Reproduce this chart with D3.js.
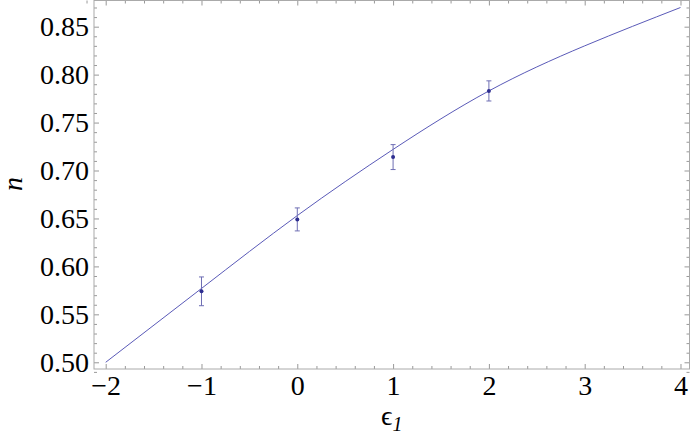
<!DOCTYPE html>
<html>
<head>
<meta charset="utf-8">
<script src="https://cdn.jsdelivr.net/npm/d3@7"></script>
<style>
  body { margin: 0; background: #fff; }
  svg { display: block; }
  .axis line { stroke: #999; }
  .axis path { display: none; }
</style>
</head>
<body>
<div id="chart"></div>
<script>
const width = 693,
  height = 441,
  margin = { top: 0.5, right: 3.5, bottom: 72, left: 94 };

const serif = "Liberation Serif";

// measured points with error bars
const epsPoints = [-1, 0, 1, 2];
const nPoints = [0.574, 0.649, 0.714, 0.783];
const nErrors = [0.015, 0.012, 0.013, 0.0105];

// fitted curve
const fitEps = [-2, -1, 0, 1, 2, 3, 4];
const fitN = [0.5, 0.577, 0.653, 0.722, 0.783, 0.830, 0.87];

// tick values
const xMajor = [-2, -1, 0, 1, 2, 3, 4];
const yMajor = [0.5, 0.55, 0.6, 0.65, 0.7, 0.75, 0.8, 0.85];

const xMinor = d3.range(-2.2, 4.1, 0.2).map(d => +d.toFixed(1)).filter(d => !xMajor.includes(d));
const yMinor = d3.range(0.49, 0.88, 0.01).map(d => +d.toFixed(2)).filter(d => !yMajor.includes(d));

const xScale = d3.scaleLinear()
  .domain([-2.122, 4.094])
  .range([margin.left, width - margin.right]);

const yScale = d3.scaleLinear()
  .domain([0.493, 0.8773])
  .range([height - margin.bottom, margin.top]);

const svg = d3.select("#chart")
  .append("svg")
  .attr("width", width)
  .attr("height", height);

const x0 = margin.left, x1 = width - margin.right;
const y0 = height - margin.bottom, y1 = margin.top;

// axes: labelled left/bottom, bare ticks top/right, all pointing inward
function addAxis(axis, tx, ty) {
  const g = svg.append("g").attr("class", "axis")
    .attr("transform", `translate(${tx},${ty})`)
    .call(axis);
  g.attr("font-family", serif).attr("font-size", 28);
  g.selectAll("text").attr("font-family", serif).attr("font-size", 28).attr("fill", "#000");
  return g;
}

addAxis(d3.axisBottom(xScale).tickValues(xMajor).tickSize(-5).tickPadding(6)
  .tickFormat(d => d < 0 ? "\u2212" + Math.abs(d) : d), 0, y0);
addAxis(d3.axisBottom(xScale).tickValues(xMinor).tickSize(-3).tickFormat(""), 0, y0);
addAxis(d3.axisTop(xScale).tickValues(xMajor).tickSize(-5).tickFormat(""), 0, y1);
addAxis(d3.axisTop(xScale).tickValues(xMinor).tickSize(-3).tickFormat(""), 0, y1);

addAxis(d3.axisLeft(yScale).tickValues(yMajor).tickSize(-5).tickPadding(5)
  .tickFormat(d3.format(".2f")), x0, 0);
addAxis(d3.axisLeft(yScale).tickValues(yMinor).tickSize(-3).tickFormat(""), x0, 0);
addAxis(d3.axisRight(yScale).tickValues(yMajor).tickSize(-5).tickFormat(""), x1, 0);
addAxis(d3.axisRight(yScale).tickValues(yMinor).tickSize(-3).tickFormat(""), x1, 0);

// frame
svg.append("rect")
  .attr("x", x0)
  .attr("y", y1)
  .attr("width", x1 - x0)
  .attr("height", y0 - y1)
  .attr("fill", "none")
  .attr("stroke", "#aaa")
  .attr("stroke-width", 1);

// fit curve
const fitData = fitEps.map((e, i) => ({ e, n: fitN[i] }));
svg.append("path")
  .datum(fitData)
  .attr("fill", "none")
  .attr("stroke", "#5a5ab8")
  .attr("stroke-width", 1)
  .attr("d", d3.line().x(d => xScale(d.e)).y(d => yScale(d.n)).curve(d3.curveNatural));

// error bars + points
const pts = epsPoints.map((e, i) => ({ e, n: nPoints[i], err: nErrors[i] }));
const bars = svg.selectAll(".err")
  .data(pts)
  .join("g")
  .attr("class", "err")
  .attr("stroke", "#6e6eb4")
  .attr("stroke-width", 1);

bars.append("line")
  .attr("x1", d => xScale(d.e)).attr("x2", d => xScale(d.e))
  .attr("y1", d => yScale(d.n - d.err)).attr("y2", d => yScale(d.n + d.err));
bars.append("line")
  .attr("x1", d => xScale(d.e) - 2.5).attr("x2", d => xScale(d.e) + 2.5)
  .attr("y1", d => yScale(d.n + d.err)).attr("y2", d => yScale(d.n + d.err));
bars.append("line")
  .attr("x1", d => xScale(d.e) - 2.5).attr("x2", d => xScale(d.e) + 2.5)
  .attr("y1", d => yScale(d.n - d.err)).attr("y2", d => yScale(d.n - d.err));

svg.selectAll(".dot")
  .data(pts)
  .join("circle")
  .attr("class", "dot")
  .attr("cx", d => xScale(d.e))
  .attr("cy", d => yScale(d.n))
  .attr("r", 2)
  .attr("fill", "#2e2e90");

// axis titles
svg.append("text")
  .attr("font-family", serif)
  .attr("font-style", "italic")
  .attr("font-size", 28)
  .attr("transform", `translate(22,184) rotate(-90)`)
  .attr("text-anchor", "middle")
  .text("n");

const xTitle = svg.append("text")
  .attr("font-family", serif)
  .attr("font-size", 28)
  .attr("x", (x0 + x1) / 2)
  .attr("y", 425)
  .attr("text-anchor", "middle");
xTitle.append("tspan").text("\u03F5");
xTitle.append("tspan")
  .attr("dy", 6)
  .attr("font-size", 20)
  .attr("font-style", "italic")
  .text("1");
</script>
</body>
</html>
